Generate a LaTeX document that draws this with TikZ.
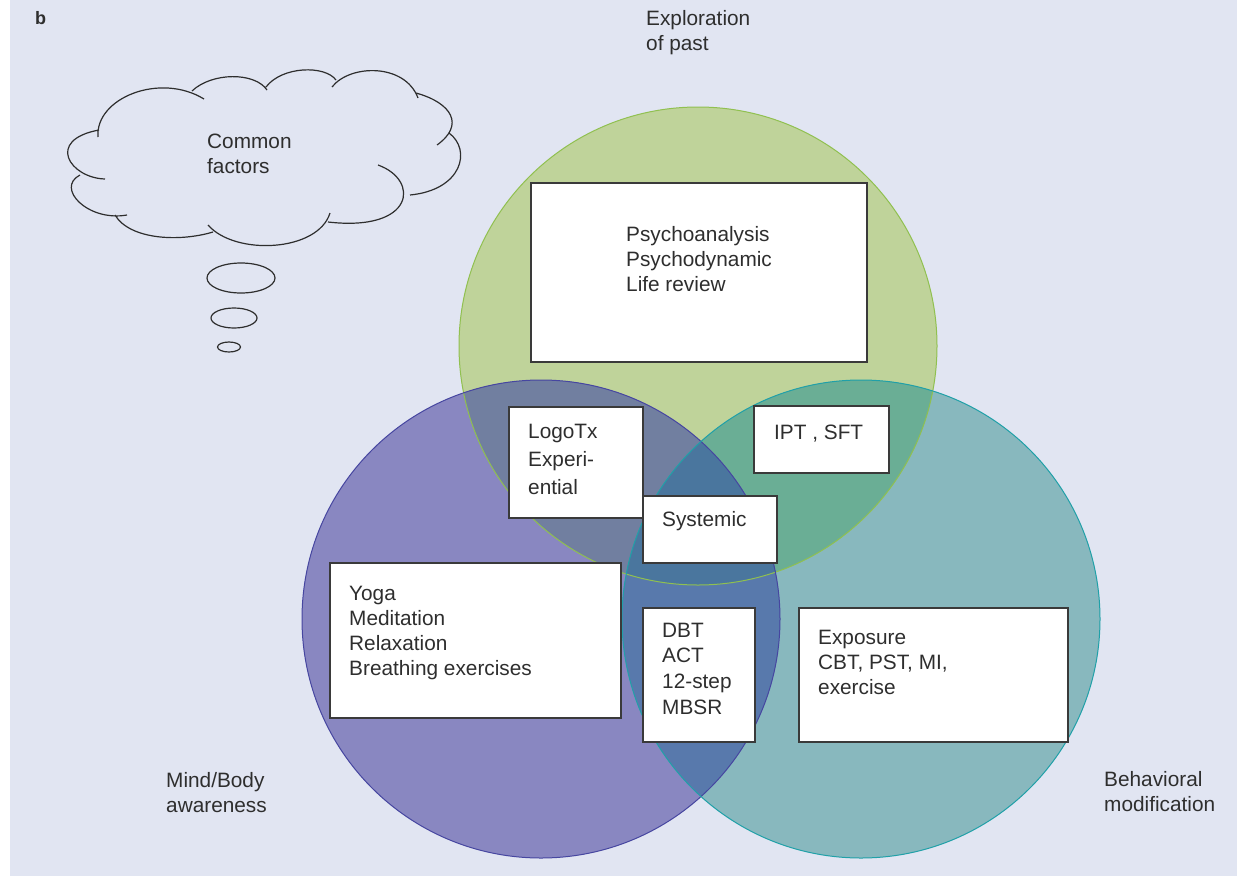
\documentclass[tikz,border=0pt]{standalone}
\usepackage{fontspec}
\setmainfont{Liberation Sans}
\usetikzlibrary{shapes.geometric}
\definecolor{bg}{HTML}{E1E5F2}
\definecolor{cgreen}{HTML}{BFD39A}
\definecolor{cpurple}{HTML}{8987C1}
\definecolor{cteal}{HTML}{88B8BE}
\definecolor{cgp}{HTML}{717FA0}
\definecolor{cgt}{HTML}{6AAE95}
\definecolor{cpt}{HTML}{5879AC}
\definecolor{cgpt}{HTML}{4A769E}
\definecolor{lgreen}{HTML}{90C050}
\definecolor{lpurple}{HTML}{4646A0}
\definecolor{lteal}{HTML}{20A0A8}
\definecolor{textgray}{HTML}{2E2E2E}
\definecolor{boxgray}{HTML}{3A3A3A}
\begin{document}
\begin{tikzpicture}[x=1pt,y=-1pt,
  txt/.style={anchor=base west, inner sep=0pt, text=textgray, font=\fontsize{20.8}{25}\selectfont},
  boxst/.style={draw=boxgray, line width=1.6pt, fill=white, inner sep=0pt, anchor=north west},
  cloudline/.style={draw=textgray, line width=1.2pt},
  ring/.style={line width=1pt}]
\useasboundingbox (0,0) rectangle (1243,876);
\fill[white] (0,0) rectangle (1243,876);
\fill[bg] (10,0) rectangle (1237,876);

\coordinate (cg) at (698,346);
\coordinate (cp) at (541,619);
\coordinate (ct) at (861,619);

% circle fills
\fill[cgreen] (cg) circle (239pt);
\fill[cpurple] (cp) circle (239pt);
\fill[cteal] (ct) circle (239pt);
\begin{scope}\clip (cg) circle (239pt); \fill[cgp] (cp) circle (239pt); \end{scope}
\begin{scope}\clip (cg) circle (239pt); \fill[cgt] (ct) circle (239pt); \end{scope}
\begin{scope}\clip (cp) circle (239pt); \fill[cpt] (ct) circle (239pt); \end{scope}
\begin{scope}\clip (cg) circle (239pt); \clip (cp) circle (239pt); \fill[cgpt] (ct) circle (239pt); \end{scope}
% circle outlines
\draw[ring, lgreen] (cg) circle (239pt);
\draw[ring, lpurple] (cp) circle (239pt);
\draw[ring, lteal] (ct) circle (239pt);

% boxes
\node[boxst, minimum width=336pt, minimum height=179pt] (psy) at (530,182) {};
\node[boxst, minimum width=134pt, minimum height=111pt] (logo) at (508,406) {};
\node[boxst, minimum width=135pt, minimum height=67pt] (ipt) at (753,405) {};
\node[boxst, minimum width=134pt, minimum height=67pt] (sys) at (642,495) {};
\node[boxst, minimum width=291pt, minimum height=155pt] (yoga) at (329,562) {};
\node[boxst, minimum width=112pt, minimum height=134pt] (dbt) at (642,607) {};
\node[boxst, minimum width=269pt, minimum height=134pt] (expo) at (798,607) {};

% box texts
\node[txt] (tpsy) at (626,241) {\vtop{\hbox{Psychoanalysis}\hbox{Psychodynamic}\hbox{Life review}}};
\node[txt] (tlogo) at (528,438) {\vtop{\baselineskip=28pt\hbox{LogoTx}\hbox{Experi-}\hbox{ential}}};
\node[txt] (tipt) at (774,439) {IPT , SFT};
\node[txt] (tsys) at (662,526) {Systemic};
\node[txt] (tyoga) at (349,600) {\vtop{\hbox{Yoga}\hbox{Meditation}\hbox{Relaxation}\hbox{Breathing exercises}}};
\node[txt] (tdbt) at (662,637) {\vtop{\baselineskip=25.7pt\hbox{DBT}\hbox{ACT}\hbox{12-step}\hbox{MBSR}}};
\node[txt] (texpo) at (818,644) {\vtop{\hbox{Exposure}\hbox{CBT, PST, MI,}\hbox{exercise}}};

% circle labels
\node[txt] (lexp) at (646,25) {\vtop{\hbox{Exploration}\hbox{of past}}};
\node[txt] (lmind) at (166,787) {\vtop{\hbox{Mind/Body}\hbox{awareness}}};
\node[txt] (lbeh) at (1104,786) {\vtop{\hbox{Behavioral}\hbox{modification}}};
\node[txt, font=\fontsize{18}{22}\selectfont\bfseries] (lb) at (35,24) {b};

% cloud
\draw[cloudline]
  (98,137) .. controls (95,98) and (160,72) .. (204,99)
  (192,91) .. controls (212,72) and (255,72) .. (267,90)
  (266,87) .. controls (282,66) and (325,65) .. (336,80)
  (332,87) .. controls (350,64) and (405,63) .. (418,98)
  (416,93) .. controls (452,103) and (465,125) .. (437,145)
  (449,133) .. controls (472,150) and (462,190) .. (410,195)
  (378,165) .. controls (420,180) and (415,232) .. (328,222)
  (330,213) .. controls (318,252) and (235,256) .. (208,225)
  (213,232) .. controls (180,242) and (130,240) .. (115,215)
  (127,215) .. controls (88,222) and (55,188) .. (80,175)
  (105,179) .. controls (70,178) and (45,140) .. (99,130);
\node[txt] (tcloud) at (207,148) {\vtop{\hbox{Common}\hbox{factors}}};
\node[cloudline, draw, ellipse, inner sep=0pt, minimum width=68pt, minimum height=30pt] (b1) at (241,278) {};
\node[cloudline, draw, ellipse, inner sep=0pt, minimum width=46pt, minimum height=20pt] (b2) at (234,318) {};
\node[cloudline, draw, ellipse, inner sep=0pt, minimum width=23pt, minimum height=10pt] (b3) at (229,347) {};
\end{tikzpicture}
\end{document}
